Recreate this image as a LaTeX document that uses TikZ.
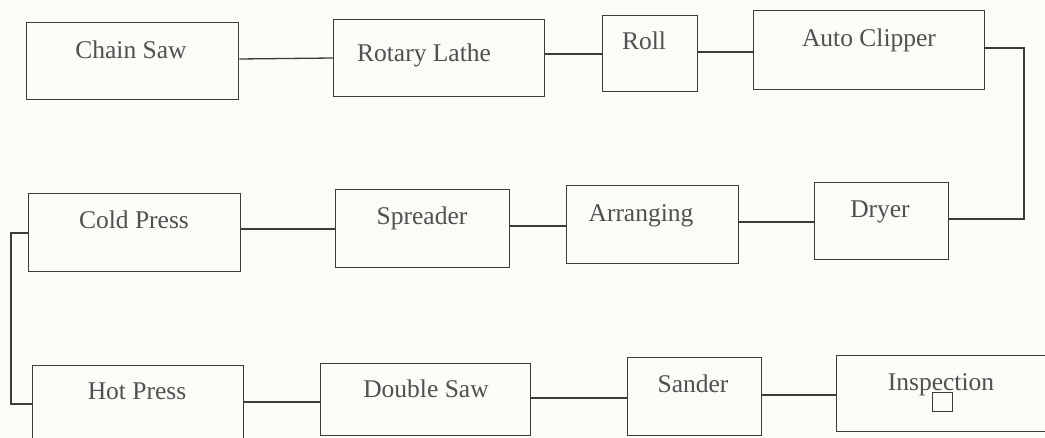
\documentclass[tikz,border=0pt]{standalone}
\usepackage{fontspec}
\setmainfont{Liberation Serif}
\definecolor{ink}{RGB}{60,60,60}
\definecolor{txt}{RGB}{80,80,80}
\definecolor{paper}{RGB}{252,251,248}
\tikzset{
  stage/.style={draw=ink, line width=1.3pt, inner sep=0pt, anchor=north west},
  lbl/.style={anchor=base, inner sep=0pt, text=txt, font=\fontsize{25.5}{30}\selectfont},
  link/.style={draw=ink, line width=1.3pt},
}
\begin{document}
\begin{tikzpicture}[x=1pt, y=-1pt]
\useasboundingbox (0,0) rectangle (1045,438);
\fill[paper] (0,0) rectangle (1045,438);
\clip (0,0) rectangle (1045,438);

% first row
\node[stage, minimum width=212pt, minimum height=77pt] (cs) at (26,22) {};
\node[stage, minimum width=211pt, minimum height=77pt] (rl) at (333,19) {};
\node[stage, minimum width=95pt, minimum height=76pt] (ro) at (602,15) {};
\node[stage, minimum width=231pt, minimum height=79pt] (ac) at (753,10) {};
% second row
\node[stage, minimum width=212pt, minimum height=78pt] (cp) at (28,193) {};
\node[stage, minimum width=174pt, minimum height=78pt] (sp) at (335,189) {};
\node[stage, minimum width=172pt, minimum height=78pt] (ar) at (566,185) {};
\node[stage, minimum width=134pt, minimum height=77pt] (dr) at (814,182) {};
% third row
\node[stage, minimum width=211pt, minimum height=90pt] (hp) at (32,365) {};
\node[stage, minimum width=210pt, minimum height=72pt] (ds) at (320,363) {};
\node[stage, minimum width=134pt, minimum height=78pt] (sa) at (627,357) {};
\node[stage, minimum width=230pt, minimum height=76pt] (in) at (836,355) {};

% captions, set high in each box
\node[lbl] (cst) at (131,59) {Chain Saw};
\node[lbl] (rlt) at (424,62) {Rotary Lathe};
\node[lbl] (rot) at (644,50) {Roll};
\node[lbl] (act) at (869,47) {Auto Clipper};
\node[lbl] (cpt) at (134,229) {Cold Press};
\node[lbl] (spt) at (422,225) {Spreader};
\node[lbl] (art) at (641,222) {Arranging};
\node[lbl] (drt) at (880,218) {Dryer};
\node[lbl] (hpt) at (137,400) {Hot Press};
\node[lbl] (dst) at (426,398) {Double Saw};
\node[lbl] (sat) at (693,393) {Sander};
\node[lbl] (int) at (941,391) {Inspection};
\node[draw=ink, line width=1pt, minimum width=20pt, minimum height=19pt, inner sep=0pt] (insq) at (942.5,402.5) {};

% flow lines
\coordinate (ne) at (1024,48);
\coordinate (sw) at (11,233);
\draw[link] (cs.east |- 0,59) -- (rl.west |- 0,58);
\draw[link] (rl.east |- 0,54) -- (ro.west |- 0,54);
\draw[link] (ro.east |- 0,52) -- (ac.west |- 0,52);
\draw[link] (ac.east |- ne) -- (ne) -- (ne |- 0,219) -- (dr.east |- 0,219);
\draw[link] (dr.west |- 0,222) -- (ar.east |- 0,222);
\draw[link] (ar.west |- 0,226) -- (sp.east |- 0,226);
\draw[link] (sp.west |- 0,229) -- (cp.east |- 0,229);
\draw[link] (cp.west |- sw) -- (sw) -- (sw |- 0,404) -- (hp.west |- 0,404);
\draw[link] (hp.east |- 0,402) -- (ds.west |- 0,402);
\draw[link] (ds.east |- 0,398) -- (sa.west |- 0,398);
\draw[link] (sa.east |- 0,395) -- (in.west |- 0,395);
\end{tikzpicture}
\end{document}
